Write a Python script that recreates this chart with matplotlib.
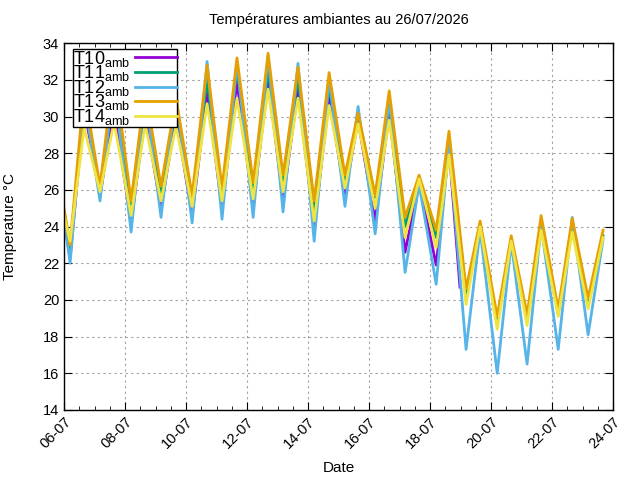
import numpy as np
import matplotlib
matplotlib.use("Agg")
import matplotlib.pyplot as plt
import matplotlib.dates as mdates
from matplotlib.ticker import AutoMinorLocator, MultipleLocator

plt.rcParams['font.family'] = ['Liberation Sans', 'DejaVu Sans']
plt.rcParams['mathtext.fontset'] = 'custom'
plt.rcParams['mathtext.rm'] = 'Liberation Sans'
plt.rcParams['mathtext.it'] = 'Liberation Sans:italic'

# Times of turning points, in days after 06-07 00:00
t_days = [0.0, 0.2, 0.66, 1.18, 1.64, 2.2, 2.66, 3.18, 3.67, 4.2, 4.69,
          5.18, 5.67, 6.2, 6.69, 7.18, 7.67, 8.2, 8.69, 9.21, 9.64,
          10.2, 10.66, 11.18, 11.64, 12.2, 12.62, 13.18, 13.64, 14.2,
          14.66, 15.18, 15.64, 16.2, 16.66, 17.18, 17.67]

# T10 stops shortly before 19-07
t10_days = t_days[:27] + [12.98]
t10 = [24.3, 22.3, 30.5, 25.7, 30.4, 24.2, 30.1, 25.0, 30.0, 24.6, 31.3,
       25.0, 31.9, 25.1, 32.1, 25.4, 31.5, 24.0, 31.0, 25.8, 29.8,
       24.3, 30.2, 22.6, 26.4, 21.9, 28.3, 20.7]
t11 = [24.8, 22.7, 30.9, 26.0, 31.8, 25.2, 31.0, 25.8, 30.6, 25.4, 32.0,
       25.7, 32.6, 26.0, 32.5, 26.5, 32.1, 24.9, 31.65, 26.4, 30.1,
       25.6, 30.7, 24.0, 26.6, 23.4, 28.6, 20.3, 24.05, 18.8,
       23.3, 18.9, 24.2, 19.3, 24.2, 19.8, 23.5]
t12 = [24.5, 22.0, 31.0, 25.4, 31.8, 23.7, 31.3, 24.5, 31.2, 24.2, 33.0,
       24.4, 33.0, 24.5, 33.3, 24.8, 32.9, 23.2, 32.1, 25.1, 30.55,
       23.6, 31.0, 21.5, 26.3, 20.85, 28.5, 17.3, 23.8, 16.0,
       23.1, 16.5, 24.05, 17.3, 24.5, 18.1, 23.3]
t13 = [25.0, 23.0, 31.5, 26.2, 32.6, 25.4, 31.5, 26.2, 31.0, 25.7, 32.8,
       26.1, 33.2, 26.4, 33.45, 26.8, 32.7, 25.4, 32.4, 26.8, 30.2,
       25.7, 31.4, 24.5, 26.8, 23.8, 29.2, 20.6, 24.3, 19.1,
       23.5, 19.2, 24.6, 19.5, 24.45, 20.1, 23.8]
t14 = [24.6, 23.2, 29.4, 25.9, 29.7, 24.6, 29.6, 25.4, 29.5, 25.1, 30.7,
       25.4, 31.0, 25.5, 31.5, 25.9, 31.0, 24.3, 30.6, 26.1, 29.6,
       25.0, 29.8, 23.4, 26.6, 22.85, 27.9, 19.75, 24.0, 18.4,
       23.2, 18.6, 23.8, 19.1, 23.7, 19.5, 23.4]

labels = ['T10$_{\\mathrm{amb}}$', 'T11$_{\\mathrm{amb}}$', 'T12$_{\\mathrm{amb}}$',
          'T13$_{\\mathrm{amb}}$', 'T14$_{\\mathrm{amb}}$']
colors = ['#9400d3', '#009e73', '#56b4e9', '#e69f00', '#f0e442']

base = mdates.date2num(np.datetime64('2026-07-06T00:00'))
x_start = mdates.date2num(np.datetime64('2026-07-06'))
x_end = mdates.date2num(np.datetime64('2026-07-24'))

fig = plt.figure(figsize=(6.4, 4.8), dpi=100)
ax = fig.add_axes([0.1, 0.146, 0.858, 0.764])

series = [(t10_days, t10), (t_days, t11), (t_days, t12), (t_days, t13), (t_days, t14)]
for (tt, vv), lab, col in zip(series, labels, colors):
    ax.plot(base + np.array(tt), vv, color=col, lw=2.0, label=lab)

ax.set_xlim(x_start, x_end)
ax.set_ylim(14, 34)
ax.yaxis.set_major_locator(MultipleLocator(2))
ax.xaxis.set_major_locator(mdates.DayLocator(interval=2))
ax.xaxis.set_major_formatter(mdates.DateFormatter('%d-%m'))
ax.xaxis.set_minor_locator(AutoMinorLocator(4))

ax.tick_params(which='both', direction='in', top=True, right=True, labelsize=10.5)
ax.tick_params(which='major', length=6)
ax.tick_params(which='minor', length=3)
for lab in ax.get_xticklabels():
    lab.set_rotation(45)
    lab.set_ha('right')
    lab.set_rotation_mode('anchor')

ax.grid(True, which='major', color='#a0a0a0', linestyle=(0, (2, 3)), lw=0.8)
ax.set_axisbelow(True)
for s in ax.spines.values():
    s.set_linewidth(1.0)

ax.set_title('Températures ambiantes au 26/07/2026', fontsize=10.5, pad=14)
ax.set_xlabel('Date', fontsize=11)
ax.set_ylabel('Temperature °C', fontsize=11)
ax.yaxis.set_label_coords(-0.085, 0.5)
ax.xaxis.set_label_coords(0.5, -0.14)

leg = ax.legend(loc='upper left', bbox_to_anchor=(0.016, 0.985), fontsize=13,
                markerfirst=False, labelspacing=-0.3, handlelength=2.3,
                handletextpad=0.3, borderpad=0.0, borderaxespad=0.0,
                fancybox=False, framealpha=1, edgecolor='black')
leg.get_frame().set_linewidth(1.0)

fig.savefig('out.png', dpi=100)
